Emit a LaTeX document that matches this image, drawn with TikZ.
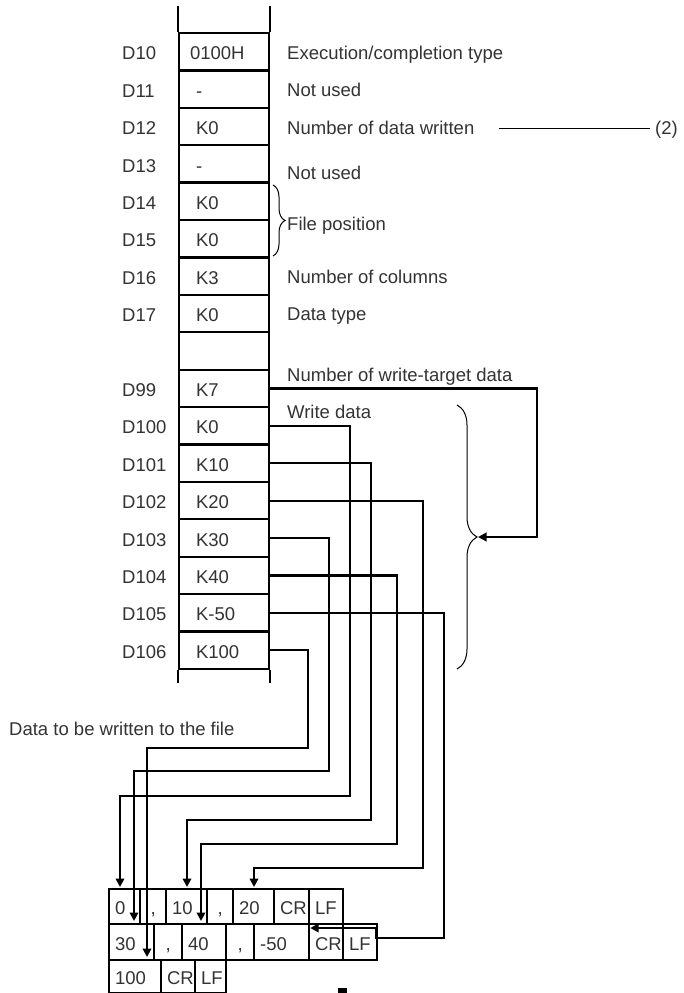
\documentclass[tikz,border=0pt]{standalone}
\usepackage{fontspec}
\setmainfont{Liberation Sans}
\usetikzlibrary{arrows.meta,decorations.pathreplacing}
\definecolor{txt}{HTML}{333333}
\begin{document}
\begin{tikzpicture}[x=1pt,y=-1pt,
  every node/.style={font=\fontsize{18.5}{22}\selectfont, text=txt, inner sep=0pt, text height=16.3pt, text depth=0pt},
  reg/.style={draw=black, line width=2.2pt, minimum width=90pt, minimum height=37.41pt, inner xsep=17pt, text width=56pt, align=left},
  dlab/.style={anchor=west},
  rlab/.style={anchor=west},
  colline/.style={line width=2.2pt, draw=black},
  conn/.style={line width=2.2pt, draw=black},
  arr/.style={conn, -{Triangle[length=8.5pt,width=8.5pt]}},
  bc/.style={draw=black, line width=2.2pt, anchor=north west, inner xsep=6pt, align=left},
  bcc/.style={bc, align=center},
  bracel/.style={draw=black, line width=1pt, decorate}
]
\useasboundingbox (0,0) rectangle (683,993);

% register column
\node[reg, inner xsep=11pt, text width=68pt] (c10) at (224,51.7) {0100H};
\node[reg] (c11) at (224,89.1) {-};
\node[reg] (c12) at (224,126.5) {K0};
\node[reg] (c13) at (224,163.9) {-};
\node[reg] (c14) at (224,201.3) {K0};
\node[reg] (c15) at (224,238.8) {K0};
\node[reg] (c16) at (224,276.2) {K3};
\node[reg] (c17) at (224,313.6) {K0};
\node[reg] (cb) at (224,351.0) {};
\node[reg] (c99) at (224,388.4) {K7};
\node[reg] (c100) at (224,425.8) {K0};
\node[reg] (c101) at (224,463.2) {K10};
\node[reg] (c102) at (224,500.6) {K20};
\node[reg] (c103) at (224,538.0) {K30};
\node[reg] (c104) at (224,575.4) {K40};
\node[reg] (c105) at (224,612.8) {K-50};
\node[reg] (c106) at (224,650.3) {K100};
\draw[colline] (c10.north west) -- ++(0,-26);
\draw[colline] (c10.north east) -- ++(0,-26);
\draw[colline] (c106.south west) -- ++(0,13);
\draw[colline] (c106.south east) -- ++(0,13);

% device labels
\node[dlab] (d10) at (122,51.7) {D10};
\node[dlab] (d11) at (122,89.1) {D11};
\node[dlab] (d12) at (122,126.5) {D12};
\node[dlab] (d13) at (122,163.9) {D13};
\node[dlab] (d14) at (122,201.3) {D14};
\node[dlab] (d15) at (122,238.8) {D15};
\node[dlab] (d16) at (122,276.2) {D16};
\node[dlab] (d17) at (122,313.6) {D17};
\node[dlab] (d99) at (122,388.4) {D99};
\node[dlab] (d100) at (122,425.8) {D100};
\node[dlab] (d101) at (122,463.2) {D101};
\node[dlab] (d102) at (122,500.6) {D102};
\node[dlab] (d103) at (122,538.0) {D103};
\node[dlab] (d104) at (122,575.4) {D104};
\node[dlab] (d105) at (122,612.8) {D105};
\node[dlab] (d106) at (122,650.3) {D106};

% right-hand descriptions
\node[rlab] (exe) at (287,51.8) {Execution/completion type};
\node[rlab] (nu1) at (287,88.5) {Not used};
\node[rlab] (ndw) at (287,126.5) {Number of data written};
\node[rlab] (two) at (655,126.5) {(2)};
\node[rlab] (nu2) at (287,171) {Not used};
\node[rlab] (fpos) at (287,222) {File position};
\node[rlab] (ncol) at (287,275.5) {Number of columns};
\node[rlab] (dtyp) at (287,312) {Data type};
\node[rlab] (nwt) at (287,373.5) {Number of write-target data};
\node[rlab] (wdat) at (287,410) {Write data};
\node[rlab] (dtw) at (9,727) {Data to be written to the file};

\draw[line width=0.9pt] ([xshift=24pt,yshift=-1.5pt]ndw.east) -- ([xshift=-5pt,yshift=-1.5pt]two.west);

% braces
\draw[bracel, decoration={brace, amplitude=12pt}] (273,185) -- (273,256);
\draw[bracel, decoration={brace, amplitude=20pt}] (457,405) -- (457,669);
\coordinate (bt) at (478,537);

% file data cells
\node[bc, minimum height=35pt, text width=19pt] (r1a) at (108,888) {0};
\node[bcc, minimum height=35pt, text width=14pt] (r1b) at (139,888) {,};
\node[bc, minimum height=35pt, text width=29pt] (r1c) at (165,888) {10};
\node[bcc, minimum height=35pt, text width=14pt] (r1d) at (206,888) {,};
\node[bc, minimum height=35pt, text width=29pt] (r1e) at (232,888) {20};
\node[bc, minimum height=35pt, text width=23pt] (r1f) at (273,888) {CR};
\node[bc, minimum height=35pt, text width=22pt] (r1g) at (308,888) {LF};

\node[bc, minimum height=36pt, text width=33pt] (r2a) at (108,923) {30};
\node[bcc, minimum height=36pt, text width=16pt] (r2b) at (153,923) {,};
\node[bc, minimum height=36pt, text width=32pt] (r2c) at (181,923) {40};
\node[bcc, minimum height=36pt, text width=16pt] (r2d) at (225,923) {,};
\node[bc, minimum height=36pt, text width=43pt] (r2e) at (253,923) {-50};
\node[bc, minimum height=36pt, text width=22pt] (r2f) at (308,923) {CR};
\node[bc, minimum height=36pt, text width=22pt] (r2g) at (342,923) {LF};

\node[bc, minimum height=33pt, text width=40pt] (r3a) at (108,959) {100};
\node[bc, minimum height=33pt, text width=22pt] (r3b) at (160,959) {CR};
\node[bc, minimum height=33pt, text width=19pt] (r3c) at (194,959) {LF};

% connectors
\draw[arr] (c99.east) -| (537,537) -- (bt);
\draw[arr] (c100.east) -| (350,796) -| ([xshift=12pt,yshift=1pt]r1a.north west);
\draw[arr] (c101.east) -| (371,820) -| ([xshift=22pt,yshift=1pt]r1c.north west);
\draw[arr] (c102.east) -| (423,868) -| ([xshift=22pt,yshift=1pt]r1e.north west);
\draw[arr] (c103.east) -| (329,771) -| ([xshift=26pt,yshift=2pt]r2a.north west);
\draw[arr] (c104.east) -| (397,844) -| ([xshift=20pt,yshift=2pt]r2c.north west);
\draw[arr] (c105.east) -| (444,938) -| (376,928) -- ([yshift=-5pt]r2e.north east);
\draw[arr] (c106.east) -| (308,748) -| ([xshift=39pt,yshift=2pt]r3a.north west);

\fill[black] (338,988) rectangle (347,993);
\end{tikzpicture}
\end{document}
